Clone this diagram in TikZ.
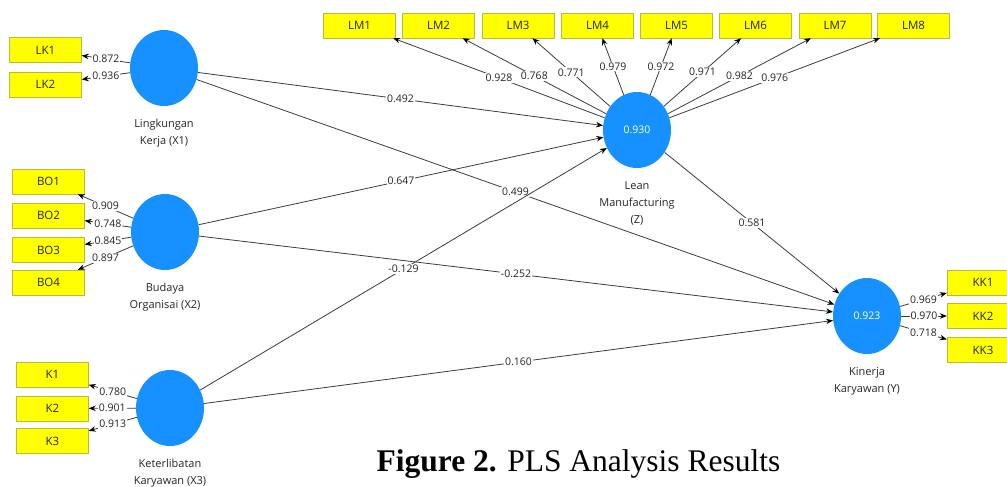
\documentclass[tikz,border=0pt]{standalone}
\usepackage{fontspec}
\newfontfamily\plsfont{Open Sans}
\newfontfamily\capfont{Liberation Serif}
\usetikzlibrary{shapes.geometric,arrows.meta,positioning}
\definecolor{lvblue}{RGB}{22,145,255}
\definecolor{indyel}{RGB}{255,255,0}
\definecolor{indedge}{RGB}{185,185,60}
\definecolor{pathgray}{RGB}{60,60,60}
\tikzset{
  pls_txt/.style = {font=\plsfont\fontsize{10.5}{17}\selectfont, text=black!85},
  lv_c/.style = {ellipse, fill=lvblue, minimum width=68pt, minimum height=76pt, inner sep=0pt, pls_txt, text=white},
  lv_lbl/.style = {pls_txt, font=\plsfont\fontsize{11}{17}\selectfont, align=center, inner sep=0pt},
  ind_b/.style = {rectangle, draw=indedge, fill=indyel, minimum width=72pt, minimum height=25pt, inner sep=0pt, pls_txt, font=\plsfont\fontsize{11.5}{14}\selectfont},
  path_a/.style = {draw=pathgray, line width=0.8pt, -{Stealth[length=7pt,width=5.5pt,black]}},
  coef/.style = {pls_txt, fill=white, inner sep=1pt, midway}
}

\begin{document}
\begin{tikzpicture}[x=1pt,y=-1pt]
\useasboundingbox (0,0) rectangle (1007,487);
\clip (0,0) rectangle (1007,487);
% latent variables
\node [lv_c] (x1) at (164,68) {};
\node [lv_c] (x2) at (165,232) {};
\node [lv_c] (x3) at (170,408) {};
\node [lv_c] (z) at (637,130) {0.930};
\node [lv_c] (y) at (867,316) {0.923};
\node [lv_lbl, below=13pt of x1] (x1_lbl) {Lingkungan\\Kerja (X1)};
\node [lv_lbl, below=13pt of x2] (x2_lbl) {Budaya\\Organisai (X2)};
\node [lv_lbl, below=13pt of x3] (x3_lbl) {Keterlibatan\\Karyawan (X3)};
\node [lv_lbl, below=13pt of z] (z_lbl) {Lean\\Manufacturing\\(Z)};
\node [lv_lbl, below=13pt of y] (y_lbl) {Kinerja\\Karyawan (Y)};
% indicators
\node [ind_b] (lk1) at (45.5,50) {LK1};
\node [ind_b] (lk2) at (45.5,84.5) {LK2};
\node [ind_b] (bo1) at (48.5,181.5) {BO1};
\node [ind_b] (bo2) at (48.5,215.5) {BO2};
\node [ind_b] (bo3) at (48.5,250) {BO3};
\node [ind_b] (bo4) at (48.5,282.5) {BO4};
\node [ind_b] (k1) at (52.5,374.5) {K1};
\node [ind_b] (k2) at (52.5,408.5) {K2};
\node [ind_b] (k3) at (52.5,441) {K3};
\node [ind_b] (lm1) at (359.5,25.5) {LM1};
\node [ind_b] (lm2) at (438.5,25.5) {LM2};
\node [ind_b] (lm3) at (518,25.5) {LM3};
\node [ind_b] (lm4) at (597.5,25.5) {LM4};
\node [ind_b] (lm5) at (676.5,25.5) {LM5};
\node [ind_b] (lm6) at (755.5,25.5) {LM6};
\node [ind_b] (lm7) at (835,25.5) {LM7};
\node [ind_b] (lm8) at (913.5,25.5) {LM8};
\node [ind_b] (kk1) at (983,282.5) {KK1};
\node [ind_b] (kk2) at (983,316) {KK2};
\node [ind_b] (kk3) at (983,350) {KK3};
% outer loadings
\draw [path_a] (x1) -- node [coef] {0.872} (lk1);
\draw [path_a] (x1) -- node [coef] {0.936} (lk2);
\draw [path_a] (x2) -- node [coef] {0.909} (bo1);
\draw [path_a] (x2) -- node [coef] {0.748} (bo2);
\draw [path_a] (x2) -- node [coef] {0.845} (bo3);
\draw [path_a] (x2) -- node [coef] {0.897} (bo4);
\draw [path_a] (x3) -- node [coef] {0.780} (k1);
\draw [path_a] (x3) -- node [coef] {0.901} (k2);
\draw [path_a] (x3) -- node [coef] {0.913} (k3);
\draw [path_a] (z) -- node [coef] {0.928} (lm1);
\draw [path_a] (z) -- node [coef] {0.768} (lm2);
\draw [path_a] (z) -- node [coef] {0.771} (lm3);
\draw [path_a] (z) -- node [coef] {0.979} (lm4);
\draw [path_a] (z) -- node [coef] {0.972} (lm5);
\draw [path_a] (z) -- node [coef] {0.971} (lm6);
\draw [path_a] (z) -- node [coef] {0.982} (lm7);
\draw [path_a] (z) -- node [coef] {0.976} (lm8);
\draw [path_a] (y) -- node [coef] {0.969} (kk1);
\draw [path_a] (y) -- node [coef] {0.970} (kk2);
\draw [path_a] (y) -- node [coef] {0.718} (kk3);
% path coefficients
\draw [path_a] (x1) -- node [coef] {0.492} (z);
\draw [path_a] (x1) -- node [coef] {0.499} (y);
\draw [path_a] (x2) -- node [coef] {0.647} (z);
\draw [path_a] (x2) -- node [coef] {-0.252} (y);
\draw [path_a] (x3) -- node [coef] {-0.129} (z);
\draw [path_a] (x3) -- node [coef] {0.160} (y);
\draw [path_a] (z) -- node [coef] {0.581} (y);
% caption
\node [font=\capfont\fontsize{31.5}{31.5}\selectfont, anchor=base, inner sep=0pt] (cap) at (578.5,471) {\textbf{Figure 2.} PLS Analysis Results};
\end{tikzpicture}
\end{document}
